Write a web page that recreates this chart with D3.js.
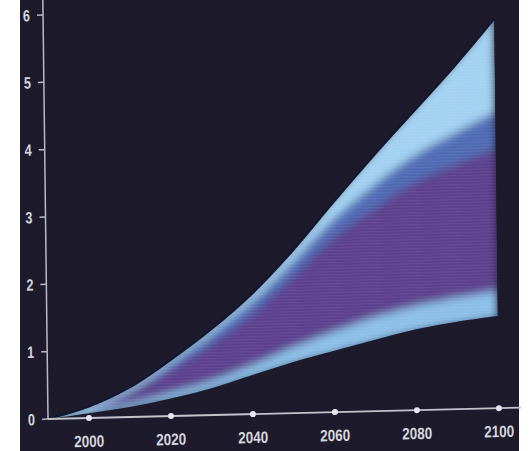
<!DOCTYPE html>
<html lang="en">
<head>
<meta charset="UTF-8">
<title>Fan chart</title>
<script src="https://cdn.jsdelivr.net/npm/d3@7"></script>
<style>
    body { margin: 0; background: #fff; }
    text {
        font-family: 'Liberation Sans', Arial, sans-serif;
        font-weight: bold;
        fill: #d6d6de;
    }
</style>
</head>
<body>
<svg id="chart" width="529" height="451"></svg>
<script>
// values
const years      = [1990, 2000, 2010, 2020, 2030, 2040, 2050, 2060, 2070, 2080, 2090, 2100];
const upper      = [0, 0.17, 0.44, 0.83, 1.27, 1.78, 2.40, 3.10, 3.78, 4.43, 5.08, 5.78];
const upperInner = [0, 0.165, 0.42, 0.79, 1.20, 1.67, 2.24, 2.85, 3.35, 3.78, 4.10, 4.40];
const upperMid   = [0, 0.14, 0.37, 0.69, 1.05, 1.48, 2.02, 2.58, 3.00, 3.38, 3.63, 3.85];
const lowerInner = [0, 0.09, 0.20, 0.35, 0.51, 0.73, 0.98, 1.20, 1.40, 1.55, 1.66, 1.75];
const lower      = [0, 0.07, 0.15, 0.26, 0.40, 0.58, 0.76, 0.91, 1.06, 1.20, 1.30, 1.37];

const xTicks = [2000, 2020, 2040, 2060, 2080, 2100];
const yTicks = [0, 1, 2, 3, 4, 5, 6];

const rows = years.map((yr, i) => ({
    year: yr, q0: lower[i], q1: lowerInner[i], q3: upperMid[i], q4: upperInner[i], q5: upper[i]
}));

const svg = d3.select("#chart");

// dark page of the scan
svg.append("rect")
    .attr("x", 20).attr("y", 0)
    .attr("width", 499).attr("height", 451)
    .attr("fill", "#1d1b2b");

const x = d3.scaleLinear().domain([1990, 2100]).range([0, 451]);
const y = d3.scaleLinear().domain([0, 6]).range([0, -404]);
const curve = d3.curveCatmullRom;

// the scan is slightly skewed, so the whole plot is too
const g = svg.append("g")
    .attr("transform", "translate(48,419) matrix(1,-0.024,0.0123,1,0,0)");

const defs = svg.append("defs");
defs.append("filter").attr("id", "soft")
    .attr("x", "-10%").attr("y", "-10%").attr("width", "120%").attr("height", "120%")
    .append("feGaussianBlur").attr("stdDeviation", 4);

// fine horizontal scan lines
const stripes = defs.append("pattern").attr("id", "scan")
    .attr("patternUnits", "userSpaceOnUse").attr("width", 8).attr("height", 3);
stripes.append("rect").attr("width", 8).attr("height", 1).attr("fill", "#ffffff").attr("opacity", 0.07);

const outer = d3.area()
    .curve(curve)
    .x(d => x(d.year))
    .y0(d => y(d.q0))
    .y1(d => y(d.q5));

defs.append("clipPath").attr("id", "fanClip")
    .append("path").attr("d", outer(rows));

const bands = [
    ["q0", "q1", "#8bbfe9"],
    ["q1", "q3", "#5c3f8d"],
    ["q3", "q4", "#4f6bb4"],
    ["q4", "q5", "#a2d1f1"]
];

const clipped = g.append("g").attr("clip-path", "url(#fanClip)");
const fan = clipped.append("g").attr("filter", "url(#soft)");

bands.forEach(b => {
    fan.append("path")
        .attr("d", d3.area().curve(curve)
            .x(d => x(d.year)).y0(d => y(d[b[0]])).y1(d => y(d[b[1]]))(rows))
        .attr("fill", b[2]);
});

// keep the outer rims bright under the blur
const lineOf = key => d3.line().curve(curve).x(d => x(d.year)).y(d => y(d[key]))(rows);
fan.append("path").attr("d", lineOf("q0")).attr("fill", "none")
    .attr("stroke", "#8bbfe9").attr("stroke-width", 6);
fan.append("path").attr("d", lineOf("q5")).attr("fill", "none")
    .attr("stroke", "#a2d1f1").attr("stroke-width", 6);

clipped.append("path").attr("d", outer(rows)).attr("fill", "url(#scan)");

// dark shadow along the top edge
g.append("path").attr("d", lineOf("q5")).attr("fill", "none")
    .attr("stroke", "#0f1733").attr("stroke-width", 2);

// axes
g.append("line")
    .attr("x1", 0).attr("y1", 0).attr("x2", 0).attr("y2", -419)
    .attr("stroke", "#b9b9c4").attr("stroke-width", 1.5);
g.append("line")
    .attr("x1", 0).attr("y1", 0).attr("x2", 473).attr("y2", 0)
    .attr("stroke", "#c4c4cc").attr("stroke-width", 1.8);

g.selectAll(".ytick").data(yTicks).enter().append("line")
    .attr("x1", -6).attr("x2", 0)
    .attr("y1", d => y(d)).attr("y2", d => y(d))
    .attr("stroke", "#b9b9c4").attr("stroke-width", 1.5);

g.selectAll(".ylab").data(yTicks).enter().append("text")
    .attr("x", -20)
    .attr("y", d => y(d))
    .attr("dy", "0.36em")
    .attr("textLength", 7)
    .attr("lengthAdjust", "spacingAndGlyphs")
    .style("font-size", "16.5px")
    .text(d => d);

g.selectAll(".xdot").data(xTicks).enter().append("circle")
    .attr("cx", d => x(d)).attr("cy", 0).attr("r", 3)
    .attr("fill", "#e6e6ee");

g.selectAll(".xlab").data(xTicks).enter().append("text")
    .attr("x", d => x(d) - 15)
    .attr("y", 29)
    .attr("textLength", 30)
    .attr("lengthAdjust", "spacingAndGlyphs")
    .style("font-size", "16.5px")
    .text(d => d);
</script>
</body>
</html>
